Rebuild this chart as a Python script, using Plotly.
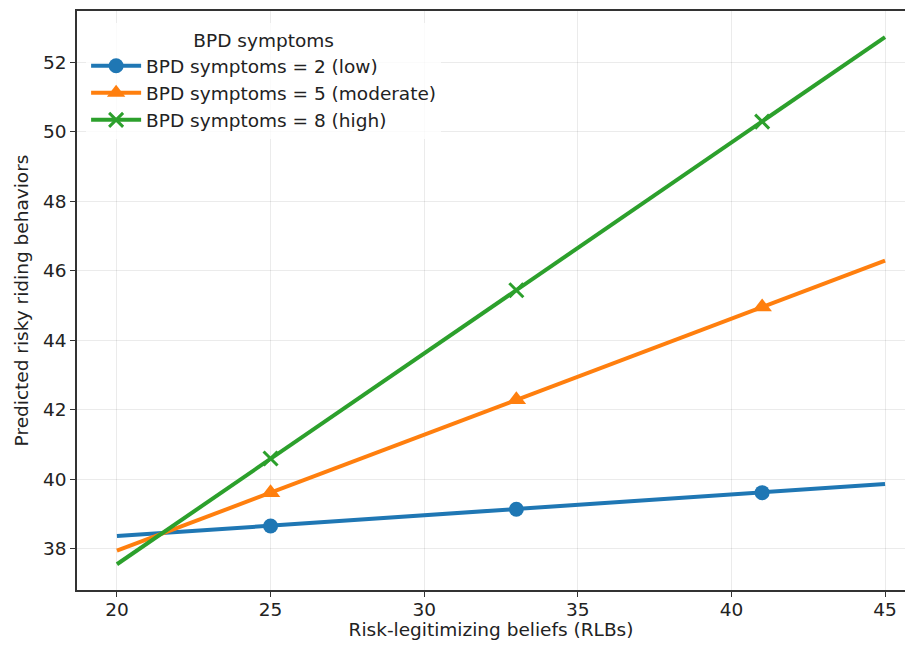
import plotly.graph_objects as go

# Data
line_x = [20, 45]
marker_x = [25, 33, 41]
labels = ["BPD symptoms = 2 (low)", "BPD symptoms = 5 (moderate)", "BPD symptoms = 8 (high)"]
low_line = [38.37, 39.87]
low_markers = [38.66, 39.14, 39.62]
mod_line = [37.95, 46.29]
mod_markers = [39.62, 42.29, 44.96]
high_line = [37.56, 52.72]
high_markers = [40.60, 45.44, 50.29]

colors = ["#1f77b4", "#ff7f0e", "#2ca02c"]
symbols = ["circle", "triangle-up", "x-thin"]
sizes = [15, 17, 14]

fig = go.Figure()
series = [(low_line, low_markers), (mod_line, mod_markers), (high_line, high_markers)]
for i, (ln, mk) in enumerate(series):
    fig.add_trace(go.Scatter(x=line_x, y=ln, mode="lines", showlegend=False,
                             line=dict(color=colors[i], width=4), hoverinfo="skip"))
    mline = dict(width=3, color=colors[i]) if symbols[i] == "x-thin" else dict(width=0)
    fig.add_trace(go.Scatter(x=marker_x, y=mk, mode="markers", showlegend=False,
                             marker=dict(color=colors[i], symbol=symbols[i], size=sizes[i], line=mline)))
    fig.add_trace(go.Scatter(x=[None], y=[None], mode="lines+markers", name=labels[i],
                             line=dict(color=colors[i], width=4),
                             marker=dict(color=colors[i], symbol=symbols[i], size=sizes[i], line=mline)))

axis_common = dict(
    showgrid=True, gridcolor="rgba(0,0,0,0.08)", gridwidth=1,
    zeroline=False, ticks="outside", ticklen=5, tickwidth=1.2, tickcolor="#333",
    showline=True, linecolor="#333", linewidth=1.5,
    tickfont=dict(size=18.5, color="#222"),
)
fig.update_xaxes(range=[18.7, 45.65], tickvals=[20, 25, 30, 35, 40, 45], mirror=True,
                 ticklabelstandoff=-3,
                 title=dict(text="Risk-legitimizing beliefs (RLBs)", font=dict(size=18.5, color="#222"), standoff=6),
                 **axis_common)
fig.update_yaxes(range=[36.82, 53.47], tickvals=[38, 40, 42, 44, 46, 48, 50, 52], mirror=False,
                 title=dict(text="Predicted risky riding behaviors", font=dict(size=18.5, color="#222"), standoff=10),
                 **axis_common)

fig.update_layout(
    width=897, height=632,
    margin=dict(l=69, r=0, t=3, b=50, autoexpand=False),
    plot_bgcolor="white", paper_bgcolor="white",
    font=dict(family="DejaVu Sans", size=18.5, color="#222"),
    legend=dict(x=0.011, y=0.979, xanchor="left", yanchor="top",
                bgcolor="rgba(255,255,255,0.8)",
                title=dict(text="BPD symptoms", side="top center", font=dict(size=18.5)),
                font=dict(size=18.5), tracegroupgap=0, itemwidth=50),
)

fig.write_html("out.html")
